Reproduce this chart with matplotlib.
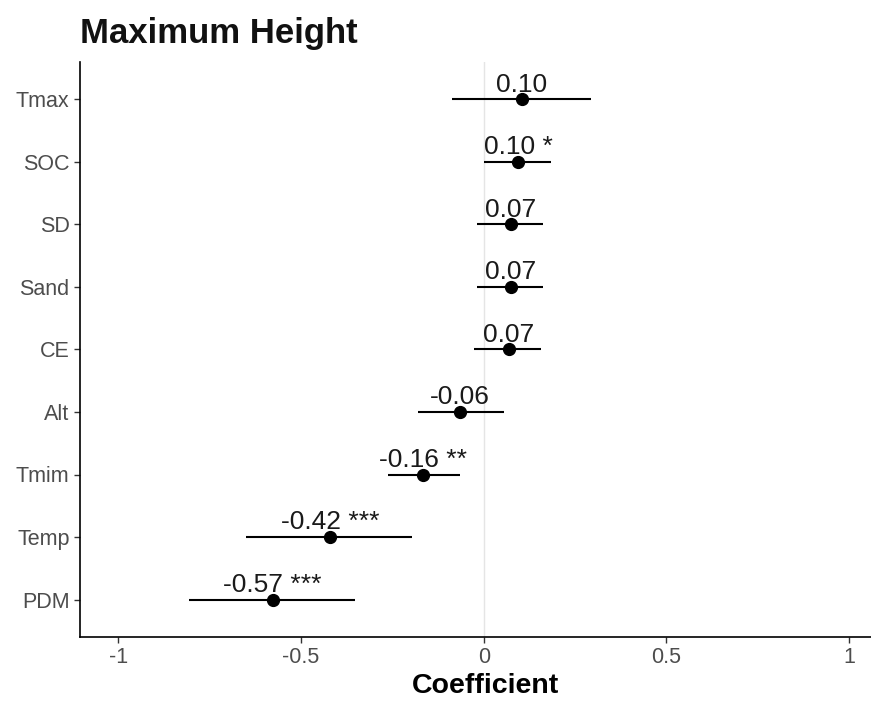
import matplotlib.pyplot as plt
import numpy as np

plt.rcParams['font.family'] = ['Liberation Sans', 'DejaVu Sans']

# coefficient estimates (top to bottom)
variables = ['Tmax', 'SOC', 'SD', 'Sand', 'CE', 'Alt', 'Tmim', 'Temp', 'PDM']
coef = [0.104, 0.094, 0.074, 0.074, 0.069, -0.066, -0.165, -0.42, -0.578]
lower = [-0.088, 0.0, -0.019, -0.019, -0.027, -0.181, -0.263, -0.65, -0.807]
upper = [0.294, 0.184, 0.162, 0.162, 0.156, 0.055, -0.066, -0.195, -0.351]
labels = ['0.10', '0.10 *', '0.07', '0.07', '0.07', '-0.06', '-0.16 **',
          '-0.42 ***', '-0.57 ***']

fig = plt.figure(figsize=(8.71, 7.04), dpi=100)
ax = fig.add_axes([80 / 871, 67 / 704, 791 / 871, 575 / 704])

ypos = np.arange(len(variables))[::-1] + 1

ax.axvline(0, color='#e5e5e5', lw=1, zorder=0)
ax.hlines(ypos, lower, upper, color='black', lw=1.5)
ax.plot(coef, ypos, 'o', color='black', markersize=8.5)

for x, y, lab in zip(coef, ypos, labels):
    ax.annotate(lab, (x, y), xytext=(0, 2), textcoords='offset points',
                ha='center', va='bottom', fontsize=19, color='#1a1a1a')

ax.set_xlim(-1.105, 1.06)
ax.set_ylim(0.4, 9.6)
ax.set_xticks([-1, -0.5, 0, 0.5, 1])
ax.set_xticklabels(['-1', '-0.5', '0', '0.5', '1'])
ax.set_yticks(ypos)
ax.set_yticklabels(variables)
ax.tick_params(labelsize=15.5, colors='#333333', length=4, width=1, labelcolor='#4d4d4d')

for s in ['top', 'right']:
    ax.spines[s].set_visible(False)
for s in ['left', 'bottom']:
    ax.spines[s].set_linewidth(1.2)

ax.set_xlabel('Coefficient', fontsize=20.5, fontweight='bold')
ax.xaxis.set_label_coords((485 - 80) / 791, -0.063)
fig.text(80 / 871, 1 - 33 / 704, 'Maximum Height', fontsize=25,
         fontweight='bold', va='center', ha='left', color='#111111')

fig.savefig('out.png', dpi=100)
